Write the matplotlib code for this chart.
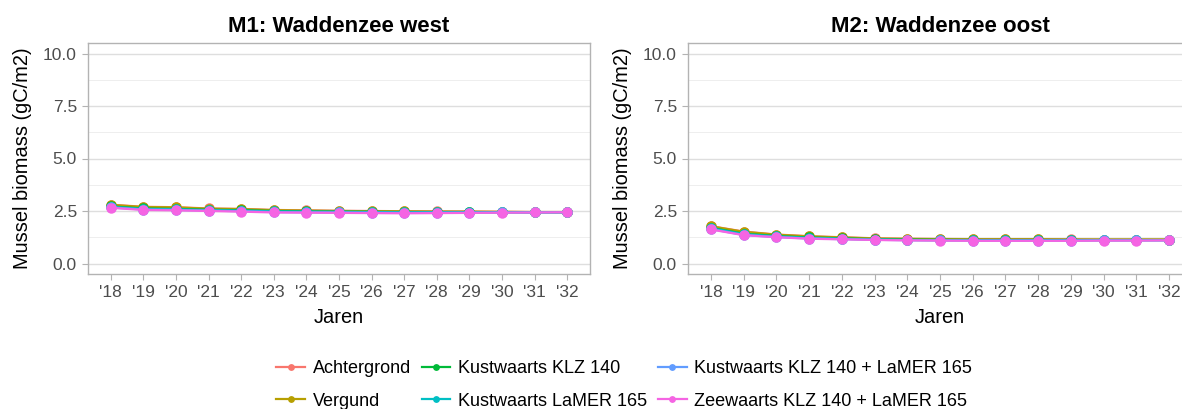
import numpy as np
import matplotlib.pyplot as plt
from matplotlib.ticker import MultipleLocator

plt.rcParams['font.family'] = ['Liberation Sans', 'DejaVu Sans']

years = np.arange(2018, 2033)
year_labels = ["'" + str(y)[2:] for y in years]

scenarios = ["Achtergrond", "Vergund", "Kustwaarts KLZ 140", "Kustwaarts LaMER 165",
             "Kustwaarts KLZ 140 + LaMER 165", "Zeewaarts KLZ 140 + LaMER 165"]
colors = ["#F8766D", "#B79F00", "#00BA38", "#00BFC4", "#619CFF", "#F564E3"]

# M1: Waddenzee west
m1_achtergrond = [2.80, 2.70, 2.68, 2.62, 2.60, 2.55, 2.53, 2.51, 2.50, 2.49, 2.48, 2.47, 2.46, 2.45, 2.45]
m1_vergund     = [2.79, 2.69, 2.67, 2.61, 2.59, 2.54, 2.52, 2.50, 2.49, 2.48, 2.47, 2.47, 2.46, 2.45, 2.45]
m1_klz         = [2.72, 2.62, 2.60, 2.56, 2.54, 2.50, 2.48, 2.47, 2.46, 2.45, 2.45, 2.45, 2.44, 2.44, 2.44]
m1_lamer       = [2.70, 2.60, 2.58, 2.54, 2.52, 2.48, 2.47, 2.46, 2.45, 2.44, 2.44, 2.44, 2.44, 2.44, 2.44]
m1_klz_lamer   = [2.67, 2.57, 2.55, 2.52, 2.49, 2.45, 2.44, 2.43, 2.42, 2.41, 2.42, 2.42, 2.43, 2.43, 2.44]
m1_zeewaarts   = [2.65, 2.55, 2.53, 2.50, 2.47, 2.43, 2.42, 2.41, 2.40, 2.39, 2.40, 2.41, 2.42, 2.43, 2.44]

# M2: Waddenzee oost
m2_achtergrond = [1.78, 1.52, 1.38, 1.30, 1.25, 1.20, 1.18, 1.17, 1.16, 1.16, 1.16, 1.15, 1.14, 1.14, 1.14]
m2_vergund     = [1.77, 1.51, 1.37, 1.29, 1.24, 1.19, 1.17, 1.16, 1.15, 1.15, 1.15, 1.14, 1.14, 1.14, 1.14]
m2_klz         = [1.70, 1.42, 1.31, 1.24, 1.20, 1.16, 1.14, 1.13, 1.12, 1.12, 1.12, 1.12, 1.12, 1.12, 1.12]
m2_lamer       = [1.68, 1.40, 1.29, 1.22, 1.18, 1.14, 1.12, 1.11, 1.11, 1.11, 1.11, 1.11, 1.11, 1.11, 1.11]
m2_klz_lamer   = [1.64, 1.36, 1.26, 1.19, 1.16, 1.13, 1.11, 1.10, 1.09, 1.09, 1.09, 1.09, 1.10, 1.10, 1.10]
m2_zeewaarts   = [1.62, 1.35, 1.25, 1.18, 1.15, 1.12, 1.10, 1.09, 1.08, 1.08, 1.08, 1.08, 1.09, 1.09, 1.10]

panels = [
    ("M1: Waddenzee west", [m1_achtergrond, m1_vergund, m1_klz, m1_lamer, m1_klz_lamer, m1_zeewaarts]),
    ("M2: Waddenzee oost", [m2_achtergrond, m2_vergund, m2_klz, m2_lamer, m2_klz_lamer, m2_zeewaarts]),
]

W, H = 1182, 409
fig = plt.figure(figsize=(W / 100, H / 100), dpi=100)
boxes = [(88, 590), (688, 1192)]
top, bottom = 43, 274

handles = []
for (title, series), (x0, x1) in zip(panels, boxes):
    ax = fig.add_axes([x0 / W, 1 - bottom / H, (x1 - x0) / W, (bottom - top) / H])
    for name, vals, col in zip(scenarios, series, colors):
        h, = ax.plot(years, vals, color=col, lw=1.6, marker='o', ms=6.5, label=name)
        if len(handles) < len(scenarios):
            handles.append(h)
    ax.set_xlim(2017.3, 2032.7)
    ax.set_ylim(-0.5, 10.5)
    ax.set_xticks(years)
    ax.set_xticklabels(year_labels)
    ax.yaxis.set_major_locator(MultipleLocator(2.5))
    ax.yaxis.set_minor_locator(MultipleLocator(1.25))
    ax.yaxis.set_major_formatter(plt.FormatStrFormatter('%.1f'))
    ax.grid(axis='y', which='major', color='#DEDEDE', lw=1.0)
    ax.grid(axis='y', which='minor', color='#EBEBEB', lw=0.6)
    ax.set_axisbelow(True)
    for s in ax.spines.values():
        s.set_color('#B3B3B3')
        s.set_linewidth(1.0)
    ax.tick_params(axis='both', which='major', colors='#B3B3B3', labelcolor='#4D4D4D',
                   labelsize=12.5, length=4, width=0.8, pad=4)
    ax.tick_params(axis='y', which='minor', length=0)
    ax.set_title(title, fontsize=16, fontweight='bold', pad=8)
    ax.set_xlabel("Jaren", fontsize=14.4, labelpad=6)
    ax.set_ylabel("Mussel biomass (gC/m2)", fontsize=14.4, labelpad=8)

fig.legend(handles=handles, labels=scenarios, ncol=3, frameon=False,
           loc='center', bbox_to_anchor=(624 / W, 1 - 385 / H), fontsize=13,
           handlelength=1.6, handletextpad=0.4, columnspacing=0.6, labelspacing=0.85,
           markerscale=0.6)

fig.savefig("out.png", dpi=100)
